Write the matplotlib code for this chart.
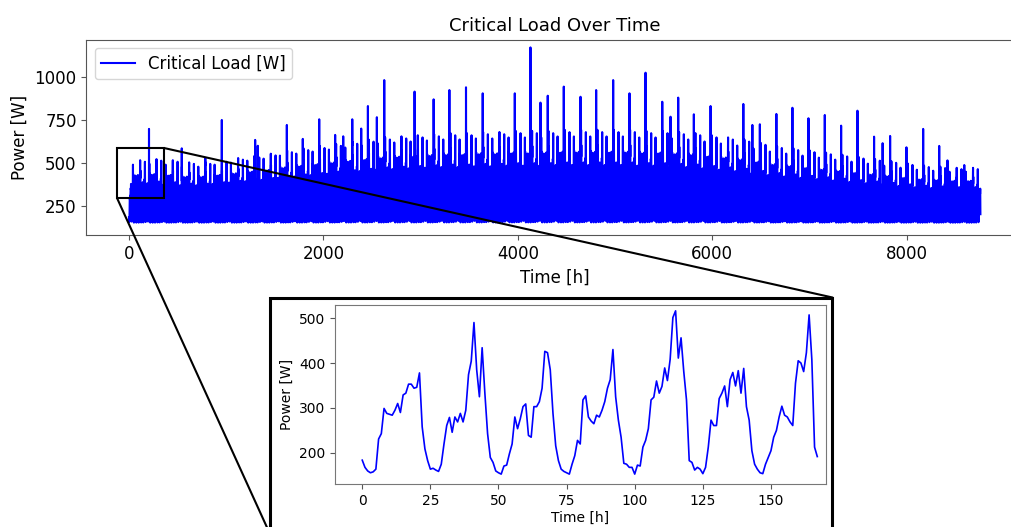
import numpy as np
import matplotlib
matplotlib.use("Agg")
import matplotlib.pyplot as plt
from matplotlib.patches import Rectangle, ConnectionPatch

# ---------------- data ----------------
# First week of hourly critical load [W]
week1_load = [
    184, 168, 160, 156, 158, 164, 231, 243, 299, 288, 286, 284, 295, 310, 290, 329,
    333, 353, 353, 344, 346, 378, 258, 209, 183, 164, 166, 162, 159, 175, 220, 261,
    279, 246, 280, 269, 288, 269, 295, 374, 404, 490, 385, 325, 434, 333, 243, 190,
    179, 160, 156, 153, 171, 173, 198, 220, 280, 254, 276, 303, 309, 239, 235, 303,
    303, 314, 344, 426, 423, 385, 288, 216, 183, 164, 159, 156, 153, 175, 194, 228,
    220, 318, 327, 280, 271, 265, 284, 280, 295, 314, 344, 363, 430, 325, 273, 235,
    177, 175, 168, 168, 153, 173, 171, 213, 228, 254, 318, 324, 360, 333, 348, 389,
    361, 408, 501, 516, 411, 456, 381, 318, 183, 179, 162, 168, 164, 154, 168, 213,
    273, 261, 261, 321, 333, 349, 303, 363, 379, 349, 383, 333, 388, 303, 273, 205,
    175, 164, 156, 154, 175, 190, 205, 235, 250, 280, 304, 284, 280, 269, 261, 355,
    405, 400, 381, 423, 507, 408, 213, 192,
]

# Typical upper level of the dense band for each week of the year [W]
weekly_level = [
    440, 445, 440, 430, 430, 440, 450, 460, 470, 485, 495, 505, 515, 525,
    535, 545, 550, 555, 560, 565, 565, 570, 570, 575, 575, 575, 580, 580,
    580, 580, 580, 575, 575, 570, 565, 555, 545, 535, 520, 505, 495, 485,
    475, 465, 455, 445, 435, 425, 415, 410, 405, 405, 405,
]

# Isolated load spikes: hour of the year and value [W]
spike_hours = [
    206, 543, 785, 955, 1298, 1325, 1624, 1788, 1957, 2121, 2204, 2297, 2389,
    2458, 2550, 2626, 2938, 3134, 3296, 3467, 3639, 3969, 4130, 4233, 4308,
    4473, 4645, 4806, 4981, 5149, 5314, 5486, 5571, 5650, 5811, 5983, 6320,
    6413, 6490, 6660, 6825, 6990, 7158, 7326, 7494, 7665, 7753, 7830, 7998,
    8170, 8335, 8420, 8593,
]
spike_values = [
    698, 585, 529, 750, 634, 600, 721, 640, 754, 663, 655, 754, 700,
    831, 766, 982, 915, 870, 924, 940, 905, 905, 1172, 851, 891,
    944, 885, 924, 982, 905, 1025, 856, 769, 880, 783, 831, 843,
    721, 725, 785, 821, 760, 779, 717, 804, 653, 615, 657, 591,
    698, 599, 515, 488,
]

base_load = 150          # night-time floor of the load [W]
n_hours = 8760
hours_per_week = 168

# ---------------- build yearly series from the read values ----------------
hours = np.arange(n_hours)
profile = np.array(week1_load, dtype=float)[hours % hours_per_week]
level = np.array(weekly_level, dtype=float)
scale = (level - base_load) / (level[0] - base_load)
load = base_load + (profile - base_load) * scale[hours // hours_per_week]
load[np.array(spike_hours)] = spike_values

# ---------------- figure ----------------
W, H = 1012, 527
fig = plt.figure(figsize=(W / 100, H / 100), dpi=100)


def fx(px):
    return px / W


def fy(py):
    return 1 - py / H


spine_col = "#555555"

ax = fig.add_axes([fx(86.4), fy(235), fx(1023) - fx(86.4), fy(39.5) - fy(235)])
ax.plot(hours, load, color="blue", lw=1.5, label="Critical Load [W]")
ax.set_xlim(-438, 9197)
ax.set_ylim(81, 1218)
ax.set_xticks([0, 2000, 4000, 6000, 8000])
ax.set_yticks([250, 500, 750, 1000])
ax.tick_params(labelsize=12, color=spine_col)
ax.set_xlabel("Time [h]", fontsize=12)
ax.set_ylabel("Power [W]", fontsize=12)
ax.set_title("Critical Load Over Time", fontsize=13)
ax.legend(loc="upper left", fontsize=12)
for s in ax.spines.values():
    s.set_color(spine_col)
ax.spines["right"].set_visible(False)

# indicator rectangle on the main axes
rect_x0, rect_x1 = -123, 360
rect_y0, rect_y1 = 296, 587
ax.add_patch(Rectangle((rect_x0, rect_y0), rect_x1 - rect_x0, rect_y1 - rect_y0,
                       fill=False, ec="black", lw=1.5, zorder=5))

# outer frame of the zoom panel
frame_l, frame_r, frame_t, frame_b = 270, 832.5, 297.5, 534
fig.add_artist(Rectangle((fx(frame_l), fy(frame_b)), fx(frame_r) - fx(frame_l),
                         fy(frame_t) - fy(frame_b), transform=fig.transFigure,
                         fill=False, ec="black", lw=2.2))

# connector lines
for (xa, ya), (xb, yb) in [((rect_x1, rect_y1), (frame_r, frame_t)),
                           ((rect_x0, rect_y0), (frame_l, frame_b))]:
    con = ConnectionPatch(xyA=(xa, ya), coordsA=ax.transData,
                          xyB=(fx(xb), fy(yb)), coordsB=fig.transFigure,
                          color="black", lw=1.5)
    fig.add_artist(con)

# zoom axes
axi = fig.add_axes([fx(335), fy(484), fx(826) - fx(335), fy(305) - fy(484)])
axi.plot(hours[:hours_per_week], load[:hours_per_week], color="blue", lw=1.2)
axi.set_xlim(-10, 170.2)
axi.set_ylim(131, 529)
axi.set_xticks([0, 25, 50, 75, 100, 125, 150])
axi.set_yticks([200, 300, 400, 500])
axi.tick_params(labelsize=10, color=spine_col)
axi.set_xlabel("Time [h]", fontsize=10, labelpad=2)
axi.set_ylabel("Power [W]", fontsize=10)
for s in axi.spines.values():
    s.set_color("#777777")

fig.savefig("out.png", dpi=100)
